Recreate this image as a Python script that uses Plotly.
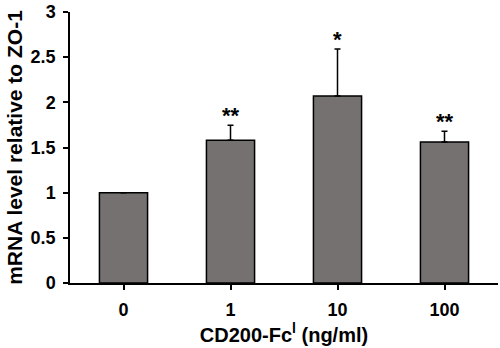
import plotly.graph_objects as go

categories = ["0", "1", "10", "100"]
values = [1.0, 1.58, 2.07, 1.56]
errors = [0.0, 0.165, 0.52, 0.12]
stars = ["", "**", "*", "**"]

FONT = "Liberation Sans, Arial"

fig = go.Figure()
fig.add_trace(go.Bar(
    x=categories, y=values,
    width=0.45,
    marker=dict(color="#767171", line=dict(color="black", width=1.5)),
    error_y=dict(type="data", array=errors, symmetric=False, arrayminus=[0]*4,
                 color="black", thickness=1.5, width=3),
))
for i, (v, e, s) in enumerate(zip(values, errors, stars)):
    if s:
        fig.add_annotation(x=i, y=v + e, xref="x", yref="y", text="<b>" + s + "</b>",
                           showarrow=False, yanchor="bottom", yshift=-5,
                           font=dict(family=FONT, size=22, color="black"))

fig.update_layout(
    width=500, height=348,
    margin=dict(l=70, r=2, t=10, b=65),
    plot_bgcolor="white", paper_bgcolor="white",
    showlegend=False,
    font=dict(family=FONT, size=14, color="black"),
)
fig.update_xaxes(
    type="category",
    showline=True, linecolor="black", linewidth=1.5,
    ticks="outside", ticklen=5, tickwidth=1.5, tickcolor="black",
    range=[-0.5, 3.5], ticklabelstandoff=5,
    tickfont=dict(size=18, family=FONT, weight="bold"),
    title=dict(text="<b>CD200-Fc<sup>l</sup> (ng/ml)</b>", font=dict(size=20), standoff=8),
)
fig.update_yaxes(
    showline=True, linecolor="black", linewidth=1.5,
    ticks="outside", ticklen=5, tickwidth=1.5, tickcolor="black",
    range=[0, 3], dtick=0.5, showgrid=False, zeroline=False, ticklabelstandoff=4,
    tickfont=dict(size=18, family=FONT, weight="bold"),
    title=dict(text="<b>mRNA level relative to ZO-1</b>", font=dict(size=21), standoff=2),
)
fig.write_html("out.html")
